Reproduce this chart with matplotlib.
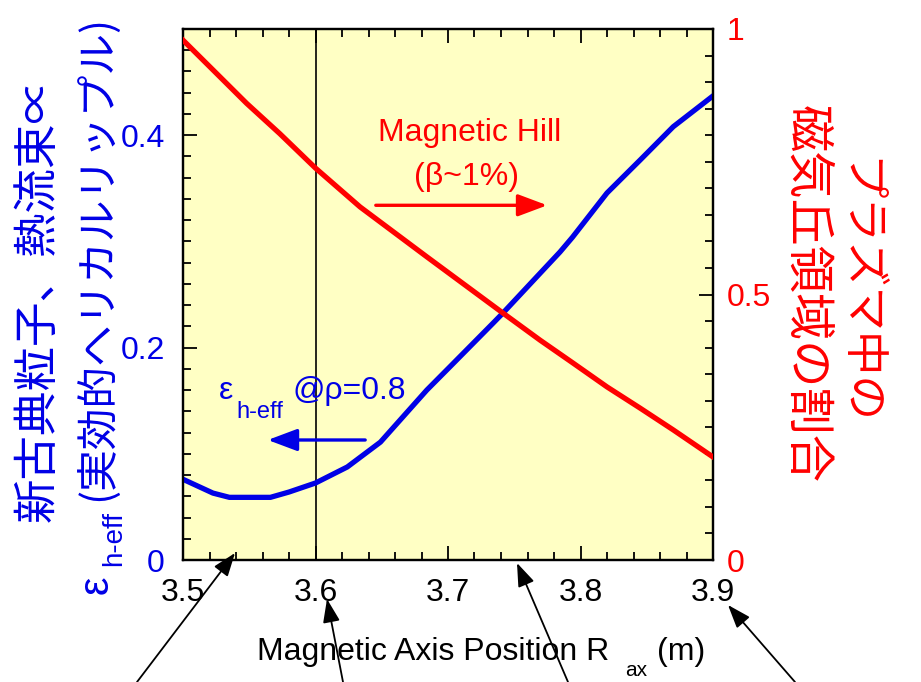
import matplotlib
matplotlib.use("Agg")
import matplotlib.pyplot as plt
from matplotlib.ticker import MultipleLocator

plt.rcParams['font.family'] = ['Liberation Sans', 'Noto Sans CJK JP', 'DejaVu Sans']

# data
r_eps = [3.5, 3.5226, 3.535, 3.566, 3.58, 3.6, 3.624, 3.649, 3.684,
         3.7015, 3.734, 3.7415, 3.7695, 3.7845, 3.794, 3.82, 3.845, 3.87, 3.9]
eps_heff = [0.076, 0.063, 0.059, 0.059, 0.064, 0.0725, 0.0876, 0.111, 0.160,
            0.182, 0.223, 0.2326, 0.270, 0.290, 0.304, 0.3456, 0.3766, 0.408, 0.437]

r_hill = [3.5, 3.5226, 3.548, 3.573, 3.6, 3.6336, 3.684, 3.7415, 3.7695,
          3.7943, 3.82, 3.845, 3.87, 3.9]
hill_frac = [0.979, 0.923, 0.860, 0.803, 0.738, 0.665, 0.571, 0.465, 0.414,
             0.371, 0.326, 0.286, 0.245, 0.194]

x_ticks = [3.5, 3.6, 3.7, 3.8, 3.9]
x_labels = ["3.5", "3.6", "3.7", "3.8", "3.9"]
left_ticks = [0, 0.2, 0.4]
left_labels = ["0", "0.2", "0.4"]
right_ticks = [0, 0.5, 1]
right_labels = ["0", "0.5", "1"]

BLUE = '#0000E6'
RED = '#FF0000'
W, H = 921, 682

def px(x, y):
    # figure pixel (from top-left) -> figure fraction
    return x / W, 1 - y / H

fig = plt.figure(figsize=(9.21, 6.82), dpi=100)
ax = fig.add_axes([183 / W, 1 - 560 / H, (713 - 183) / W, (560 - 29) / H])
ax.set_facecolor('#FFFFC4')
ax2 = ax.twinx()

ax.set_xlim(3.5, 3.9)
ax.set_ylim(0, 0.5)
ax2.set_ylim(0, 1)

ax.axvline(3.6, color='black', lw=1.2, zorder=1)
ax.plot(r_eps, eps_heff, color=BLUE, lw=3.8, zorder=3)
ax2.plot(r_hill, hill_frac, color=RED, lw=3.8, zorder=3)

ax.set_xticks(x_ticks, x_labels)
ax.xaxis.set_minor_locator(MultipleLocator(0.02))
ax.set_yticks(left_ticks, left_labels)
ax.yaxis.set_minor_locator(MultipleLocator(0.02))
ax2.set_yticks(right_ticks, right_labels)
ax2.yaxis.set_minor_locator(MultipleLocator(0.05))

ax.tick_params(which='both', direction='in', top=True, bottom=True, left=True, right=False, width=1.3)
ax.tick_params(which='major', length=10)
ax.tick_params(which='minor', length=6)
ax.tick_params(axis='x', labelsize=23, pad=13, colors='black')
ax.tick_params(axis='y', labelsize=23, pad=13, labelcolor=BLUE)
ax2.tick_params(which='both', direction='in', width=1.3)
ax2.tick_params(which='major', length=10)
ax2.tick_params(which='minor', length=6)
ax2.tick_params(axis='y', labelsize=23, pad=10, labelcolor=RED)
for a in (ax, ax2):
    for s in a.spines.values():
        s.set_linewidth(1.6)

# in-plot annotations
ax.text(3.7166, 0.402, "Magnetic Hill", color=RED, fontsize=23, ha='center', va='center')
ax.text(3.714, 0.3606, "(β~1%)", color=RED, fontsize=23, ha='center', va='center')
ax.annotate("", xy=(3.777, 0.334), xytext=(3.6434, 0.334),
            arrowprops=dict(arrowstyle='-|>,head_length=1.2,head_width=0.45',
                            color=RED, lw=2.4, mutation_scale=15))

ax.text(3.527, 0.1516, "ε", color=BLUE, fontsize=23, ha='left', va='baseline')
ax.text(3.540, 0.1337, "h-eff", color=BLUE, fontsize=17, ha='left', va='baseline')
ax.text(3.583, 0.1516, "@ρ=0.8", color=BLUE, fontsize=23, ha='left', va='baseline')
ax.annotate("", xy=(3.5619, 0.113), xytext=(3.6396, 0.113),
            arrowprops=dict(arrowstyle='-|>,head_length=1.2,head_width=0.45',
                            color=BLUE, lw=2.4, mutation_scale=15))

# axis labels
fig.text(*px(257, 660), "Magnetic Axis Position R", fontsize=23, ha='left', va='baseline')
fig.text(*px(625, 676), "ax", fontsize=15, ha='left', va='baseline')
fig.text(*px(657, 660), "(m)", fontsize=23, ha='left', va='baseline')

cjk = ['Noto Sans CJK JP', 'DejaVu Sans']
fig.text(*px(38, 300), "新古典粒子、熱流束∝", family=cjk, fontsize=32, color=BLUE,
         rotation=90, ha='center', va='center')
fig.text(*px(97, 585), "ε", fontsize=30, color=BLUE, rotation=90, ha='center', va='center')
fig.text(*px(114, 538), "h-eff", fontsize=20, color=BLUE, rotation=90, ha='center', va='center')
fig.text(*px(97, 258), "(実効的ヘリカルリップル)", family=cjk, fontsize=30, color=BLUE,
         rotation=90, ha='center', va='center')

fig.text(*px(858, 292), "プラズマ中の", family=cjk, fontsize=32, color=RED,
         rotation=270, ha='center', va='center')
fig.text(*px(806, 294), "磁気丘領域の割合", family=cjk, fontsize=34, color=RED,
         rotation=270, ha='center', va='center')

# arrows below the axis
arrow_kw = dict(arrowstyle='-|>,head_length=1.1,head_width=0.4', color='black',
                lw=1.3, mutation_scale=13, shrinkA=0, shrinkB=0)
for tail, head in [((137, 682), (235, 553)), ((343, 682), (327, 599)),
                   ((568, 682), (517, 563)), ((795, 682), (728, 605))]:
    ax.annotate("", xy=px(*head), xytext=px(*tail), xycoords='figure fraction',
                textcoords='figure fraction', arrowprops=arrow_kw, annotation_clip=False)

fig.savefig("out.png", dpi=100)
